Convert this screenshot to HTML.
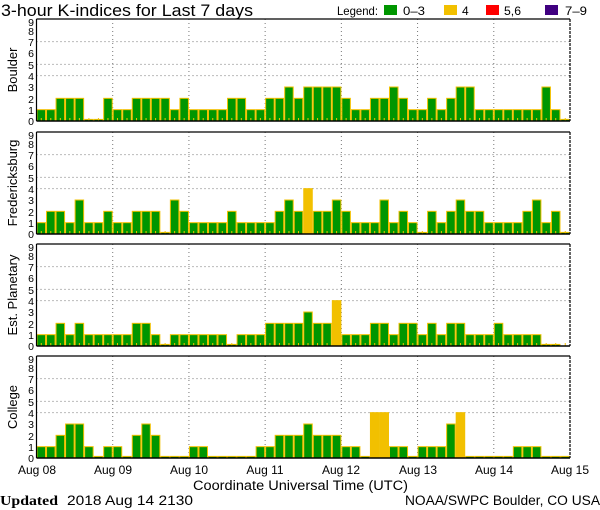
<!DOCTYPE html>
<html><head><meta charset="utf-8"><style>
body{margin:0;background:#fff;}
svg{display:block;font-family:"Liberation Sans",sans-serif;}
</style></head><body>
<svg id="s" width="600" height="510" xmlns="http://www.w3.org/2000/svg">
<rect width="600" height="510" fill="#fff"/>
<text x="1" y="16" font-size="17" textLength="252" lengthAdjust="spacingAndGlyphs">3-hour K-indices for Last 7 days</text>
<text x="337" y="15" font-size="12" textLength="41" lengthAdjust="spacingAndGlyphs">Legend:</text>
<rect x="384" y="5" width="13" height="10" fill="#009600"/>
<text x="403" y="15" font-size="12" textLength="22" lengthAdjust="spacingAndGlyphs">0–3</text>
<rect x="444" y="5" width="13" height="10" fill="#f2c000"/>
<text x="462" y="15" font-size="12">4</text>
<rect x="486" y="5" width="13" height="10" fill="#ff0000"/>
<text x="504" y="15" font-size="12" textLength="17" lengthAdjust="spacingAndGlyphs">5,6</text>
<rect x="545" y="5" width="13" height="10" fill="#400080"/>
<text x="565" y="15" font-size="12" textLength="22" lengthAdjust="spacingAndGlyphs">7–9</text>
<g id="panels"></g>
<g font-size="12" text-anchor="middle">
<text x="37" y="474">Aug 08</text>
<text x="113" y="474">Aug 09</text>
<text x="189" y="474">Aug 10</text>
<text x="265" y="474">Aug 11</text>
<text x="341" y="474">Aug 12</text>
<text x="418" y="474">Aug 13</text>
<text x="494" y="474">Aug 14</text>
<text x="570" y="474">Aug 15</text>
</g>
<text x="193" y="490" font-size="13.5" textLength="215" lengthAdjust="spacingAndGlyphs">Coordinate Universal Time (UTC)</text>
<text x="0" y="505" font-size="14" font-family="Liberation Serif,serif" font-weight="bold" textLength="58" lengthAdjust="spacingAndGlyphs">Updated</text>
<text x="67" y="505" font-size="13.5" textLength="126" lengthAdjust="spacingAndGlyphs">2018 Aug 14 2130</text>
<text x="405" y="505" font-size="13.5" textLength="195" lengthAdjust="spacingAndGlyphs">NOAA/SWPC Boulder, CO USA</text>
<g font-size="13" text-anchor="middle">
<text transform="translate(17,70) rotate(-90)">Boulder</text>
<text transform="translate(17,183) rotate(-90)">Fredericksburg</text>
<text transform="translate(17,295) rotate(-90)">Est. Planetary</text>
<text transform="translate(17,407) rotate(-90)">College</text>
</g>
<g font-size="10.5" text-anchor="end" id="yl">
<g transform="translate(0,19)"><text x="34" y="106">0</text><text x="34" y="95">1</text><text x="34" y="84">2</text><text x="34" y="72">3</text><text x="34" y="61">4</text><text x="34" y="50">5</text><text x="34" y="38">6</text><text x="34" y="27">7</text><text x="34" y="16">8</text><text x="34" y="7">9</text></g>
<g transform="translate(0,132)"><text x="34" y="106">0</text><text x="34" y="95">1</text><text x="34" y="84">2</text><text x="34" y="72">3</text><text x="34" y="61">4</text><text x="34" y="50">5</text><text x="34" y="38">6</text><text x="34" y="27">7</text><text x="34" y="16">8</text><text x="34" y="7">9</text></g>
<g transform="translate(0,244)"><text x="34" y="106">0</text><text x="34" y="95">1</text><text x="34" y="84">2</text><text x="34" y="72">3</text><text x="34" y="61">4</text><text x="34" y="50">5</text><text x="34" y="38">6</text><text x="34" y="27">7</text><text x="34" y="16">8</text><text x="34" y="7">9</text></g>
<g transform="translate(0,356)"><text x="34" y="106">0</text><text x="34" y="95">1</text><text x="34" y="84">2</text><text x="34" y="72">3</text><text x="34" y="61">4</text><text x="34" y="50">5</text><text x="34" y="38">6</text><text x="34" y="27">7</text><text x="34" y="16">8</text><text x="34" y="7">9</text></g>
</g>
</svg>
<script>
var data=[
[1,1,2,2,2,0,0,2, 1,1,2,2,2,2,1,2, 1,1,1,1,2,2,1,1, 2,2,3,2,3,3,3,3, 2,1,1,2,2,3,2,1, 1,2,1,2,3,3,1,1, 1,1,1,1,1,3,1,0],
[1,2,2,1,3,1,1,2, 1,1,2,2,2,0,3,2, 1,1,1,1,2,1,1,1, 1,2,3,2,4,2,2,3, 2,1,1,1,3,1,2,1, 0,2,1,2,3,2,2,1, 1,1,1,2,3,1,2,0],
[1,1,2,1,2,1,1,1, 1,1,2,2,1,0,1,1, 1,1,1,1,0,1,1,1, 2,2,2,2,3,2,2,4, 1,1,1,2,2,1,2,2, 1,2,1,2,2,1,1,1, 2,1,1,1,1,0,0,-1],
[1,1,2,3,3,1,0,1, 1,0,2,3,2,0,0,0, 1,1,0,0,0,0,0,1, 1,2,2,2,3,2,2,2, 1,1,0,4,4,1,1,0, 1,1,1,3,4,0,0,0, 0,0,1,1,1,0,0,0]];
var tops=[19,132,244,356],x0=36.5,x1=570,W=(x1-x0)/56,H=102,u=H/9;
var s='';
for(var p=0;p<4;p++){
 var t=tops[p],b=t+H;
 [4,5,7].forEach(function(v){var y=b-v*u;s+='<line x1="'+x0+'" x2="'+x1+'" y1="'+y+'" y2="'+y+'" stroke="#777" stroke-dasharray="1,3"/>';});
 for(var d=1;d<7;d++){var x=x0+d*8*W;s+='<line x1="'+x+'" x2="'+x+'" y1="'+t+'" y2="'+b+'" stroke="#777" stroke-dasharray="1,3"/>';}
 for(var i=0;i<56;i++){
  var v=data[p][i],x=x0+i*W;
  if(v>=0){var h=v==0?1.6:v*u;var c=v>=4?'#f2c000':'#009600';
   s+='<rect x="'+(x+0.5)+'" y="'+(b-h)+'" width="'+(W-1)+'" height="'+h+'" fill="'+c+'" stroke="#f2c000" stroke-width="1"/>';}
  if(p<3) s+='<line x1="'+(x+W/2)+'" x2="'+(x+W/2)+'" y1="'+(b-3)+'" y2="'+b+'" stroke="#f2c000" stroke-width="1"/>';
 }
 s+='<line x1="'+x0+'" x2="'+x1+'" y1="'+t+'" y2="'+t+'" stroke="#000" stroke-width="1.2"/>';
 s+='<line x1="'+x0+'" x2="'+x1+'" y1="'+b+'" y2="'+b+'" stroke="#000" stroke-width="1.5"/>';
 s+='<line x1="'+x0+'" x2="'+x0+'" y1="'+t+'" y2="'+b+'" stroke="#000" stroke-width="1.2"/>';
 s+='<line x1="'+x1+'" x2="'+x1+'" y1="'+t+'" y2="'+b+'" stroke="#000" stroke-width="1.2" stroke-dasharray="3,1"/>';
}
document.getElementById('panels').innerHTML=s;
</script>
</body></html>
